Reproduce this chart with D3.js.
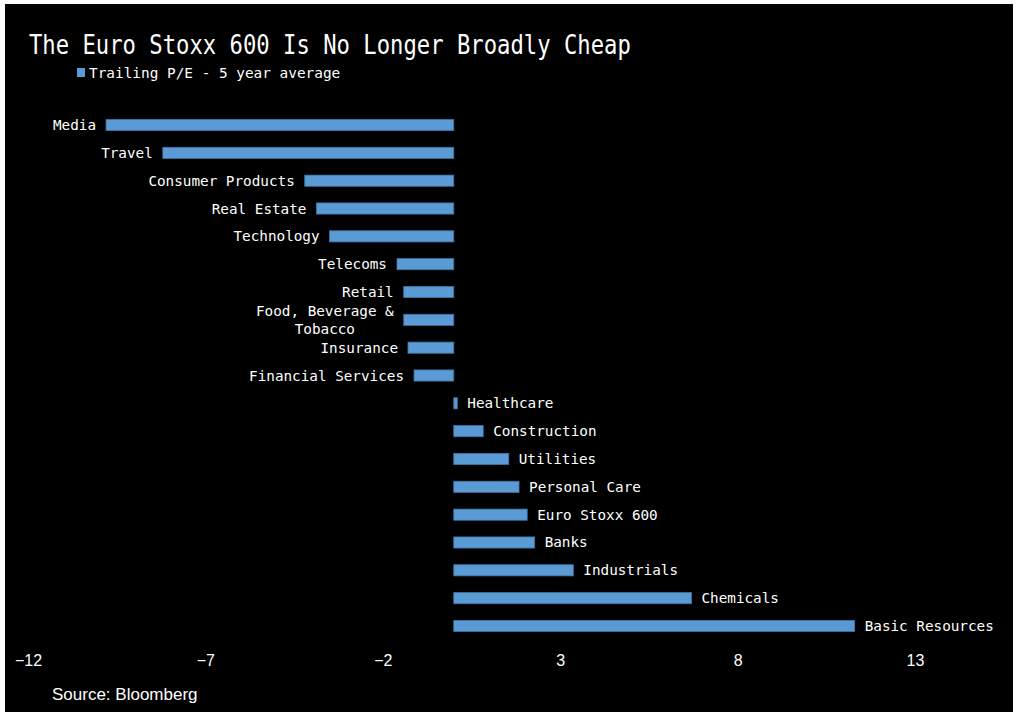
<!DOCTYPE html>
<html>
<head>
<meta charset="utf-8">
<script src="https://cdn.jsdelivr.net/npm/d3@7/dist/d3.min.js"></script>
<style>
  html, body { margin: 0; padding: 0; background: #fff; }
  svg { display: block; }
</style>
</head>
<body>
<div id="grafico"></div>
<script>
// Sectors, top to bottom, and trailing P/E minus 5 year average
const setores = ["Media", "Travel", "Consumer Products", "Real Estate", "Technology", "Telecoms",
  "Retail", "Food, Beverage & Tobacco", "Insurance", "Financial Services", "Healthcare",
  "Construction", "Utilities", "Personal Care", "Euro Stoxx 600", "Banks", "Industrials",
  "Chemicals", "Basic Resources"];
const valores = [-9.8, -8.2, -4.2, -3.87, -3.5, -1.6, -1.41, -1.41, -1.29, -1.12, 0.1,
  0.83, 1.55, 1.84, 2.07, 2.28, 3.37, 6.7, 11.3];
const ticks = [-12, -7, -2, 3, 8, 13];

const titulo = "The Euro Stoxx 600 Is No Longer Broadly Cheap";
const legenda = "Trailing P/E - 5 year average";
const fonte = "Source: Bloomberg";

const largura = 1017, altura = 724;
const corBarra = "#5b9bd5";
const mono = "'DejaVu Sans Mono', monospace";
const sans = "'Liberation Sans', Arial, sans-serif";

const svg = d3.select("#grafico").append("svg")
  .attr("width", largura)
  .attr("height", altura);

// Fundo preto do painel
svg.append("rect")
  .attr("x", 5).attr("y", 4)
  .attr("width", 1008).attr("height", 708)
  .attr("fill", "#000");

// Título (fonte condensada)
svg.append("text")
  .attr("transform", "translate(29,54) scale(0.855,1)")
  .attr("fill", "#fff")
  .attr("font-family", mono)
  .attr("font-size", 26)
  .text(titulo);

// Legenda
svg.append("rect")
  .attr("x", 77).attr("y", 68)
  .attr("width", 8).attr("height", 9)
  .attr("fill", corBarra);
svg.append("text")
  .attr("x", 89).attr("y", 78)
  .attr("fill", "#fff")
  .attr("font-family", mono)
  .attr("font-size", 14.4)
  .text(legenda);

// Escalas
const eixoX = d3.scaleLinear().domain([-12, 13]).range([28, 915]);
const eixoY = d3.scaleBand().domain(setores).range([111.1, 639.9])
  .paddingInner(0.6).paddingOuter(0.3);

const dados = setores.map((s, i) => ({ setor: s, valor: valores[i] }));

// Barras
svg.append("g").selectAll("rect")
  .data(dados)
  .join("rect")
    .attr("x", d => eixoX(Math.min(0, d.valor)))
    .attr("y", d => eixoY(d.setor))
    .attr("width", d => Math.abs(eixoX(d.valor) - eixoX(0)))
    .attr("height", eixoY.bandwidth())
    .attr("fill", corBarra)
    .attr("stroke", "#3f74a6")
    .attr("stroke-width", 0.8);

// Rótulos das barras
const rotulos = svg.append("g")
  .attr("fill", "#fff")
  .attr("font-family", mono)
  .attr("font-size", 14.3);

dados.forEach(d => {
  const cy = eixoY(d.setor) + eixoY.bandwidth() / 2;
  const neg = d.valor < 0;
  const x = neg ? eixoX(d.valor) - 10 : eixoX(d.valor) + 10;
  if (d.setor === "Food, Beverage & Tobacco") {
    // rótulo quebrado em duas linhas, centralizadas
    const t = rotulos.append("text").attr("text-anchor", "end").attr("x", x).attr("y", cy - 4).text("Food, Beverage &");
    const w = t.node().getComputedTextLength();
    rotulos.append("text").attr("text-anchor", "middle").attr("x", x - w / 2).attr("y", cy + 14).text("Tobacco");
  } else {
    rotulos.append("text")
      .attr("text-anchor", neg ? "end" : "start")
      .attr("x", x)
      .attr("y", cy + 5)
      .text(d.setor);
  }
});

// Eixo X: só os rótulos
const gx = svg.append("g")
  .attr("transform", "translate(0,660)")
  .call(d3.axisBottom(eixoX).tickValues(ticks).tickSize(0).tickPadding(0));
gx.select(".domain").remove();
gx.selectAll("text")
  .attr("fill", "#fff")
  .attr("dy", "0.35em")
  .attr("font-family", sans)
  .attr("font-size", 16);

// Fonte
svg.append("text")
  .attr("x", 52).attr("y", 700)
  .attr("fill", "#fff")
  .attr("font-family", sans)
  .attr("font-size", 17)
  .text(fonte);
</script>
</body>
</html>
